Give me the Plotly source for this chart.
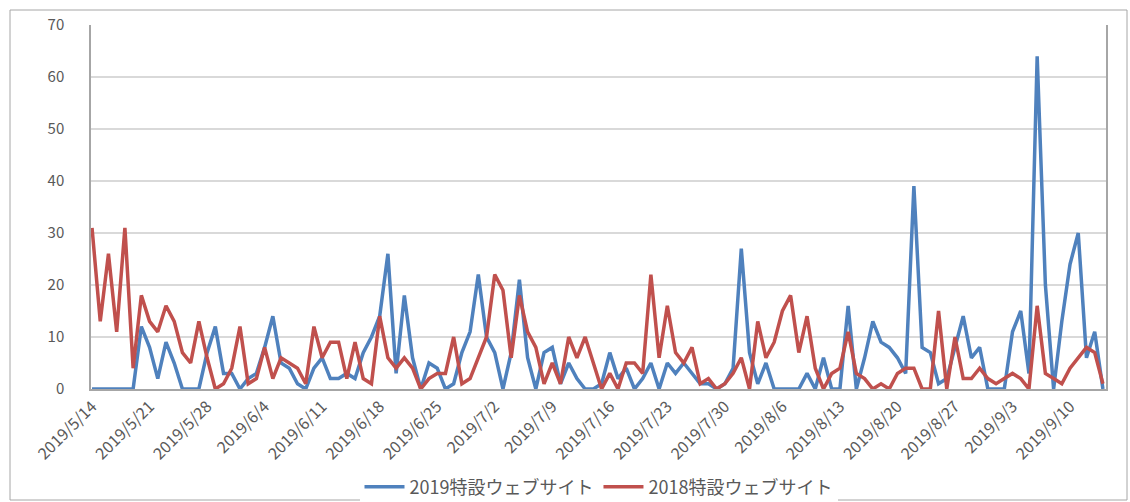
import pandas as pd
import plotly.graph_objects as go

start_date = "2019-05-14"
n_days = 124

series_2019_name = "2019特設ウェブサイト"
series_2018_name = "2018特設ウェブサイト"

values_2019 = [
    0, 0, 0, 0, 0, 0, 12, 8, 2, 9,
    5, 0, 0, 0, 7, 12, 3, 3, 0, 2,
    3, 8, 14, 5, 4, 1, 0, 4, 6, 2,
    2, 3, 2, 7, 10, 14, 26, 3, 18, 6,
    0, 5, 4, 0, 1, 7, 11, 22, 10, 7,
    0, 7, 21, 6, 0, 7, 8, 1, 5, 2,
    0, 0, 1, 7, 2, 4, 0, 2, 5, 0,
    5, 3, 5, 3, 1, 1, 0, 1, 4, 27,
    7, 1, 5, 0, 0, 0, 0, 3, 0, 6,
    0, 0, 16, 0, 6, 13, 9, 8, 6, 3,
    39, 8, 7, 1, 2, 8, 14, 6, 8, 0,
    0, 0, 11, 15, 3, 64, 20, 0, 13, 24,
    30, 6, 11, 0,
]

values_2018 = [
    31, 13, 26, 11, 31, 4, 18, 13, 11, 16,
    13, 7, 5, 13, 6, 0, 1, 4, 12, 1,
    2, 8, 2, 6, 5, 4, 1, 12, 6, 9,
    9, 2, 9, 2, 1, 14, 6, 4, 6, 4,
    0, 2, 3, 3, 10, 1, 2, 6, 10, 22,
    19, 6, 18, 11, 8, 1, 5, 1, 10, 6,
    10, 5, 0, 3, 0, 5, 5, 3, 22, 6,
    16, 7, 5, 8, 1, 2, 0, 1, 3, 6,
    0, 13, 6, 9, 15, 18, 7, 14, 4, 0,
    3, 4, 11, 3, 2, 0, 1, 0, 3, 4,
    4, 0, 0, 15, 0, 10, 2, 2, 4, 2,
    1, 2, 3, 2, 0, 16, 3, 2, 1, 4,
    6, 8, 7, 1,
]

dates = pd.date_range(start_date, periods=n_days, freq="D")
tick_dates = pd.date_range(start_date, "2019-09-10", freq="7D")
tick_text = [f"{d.year}/{d.month}/{d.day}" for d in tick_dates]

BLUE = "#4F81BD"
RED = "#C0504D"
TXT = "#595959"
FONT = "Noto Sans CJK JP"

fig = go.Figure()
fig.add_trace(go.Scatter(x=dates, y=values_2019, mode="lines", name=series_2019_name,
                         line=dict(color=BLUE, width=3.5)))
fig.add_trace(go.Scatter(x=dates, y=values_2018, mode="lines", name=series_2018_name,
                         line=dict(color=RED, width=3.5)))

W, H = 1130, 502
L, R, T, B = 91, 24, 25, 113
pw, ph = W - L - R, H - T - B

def px_to_paper_x(px):
    return (px - L) / pw

def px_to_paper_y(py):
    return (H - B - py) / ph

fig.add_shape(type="rect", xref="paper", yref="paper",
              x0=px_to_paper_x(10), x1=px_to_paper_x(1127),
              y0=px_to_paper_y(500), y1=px_to_paper_y(10),
              line=dict(color="#A6A6A6", width=1), fillcolor="rgba(0,0,0,0)", layer="below")

fig.update_layout(
    width=W, height=H,
    margin=dict(l=L, r=R, t=T, b=B, autoexpand=False),
    paper_bgcolor="white", plot_bgcolor="white",
    font=dict(family=FONT, color=TXT, size=14),
    showlegend=True,
    legend=dict(orientation="h", x=0.5, xanchor="center", y=px_to_paper_y(487), yanchor="middle",
                font=dict(size=18, color=TXT, family=FONT), itemwidth=40, tracegroupgap=0),
    xaxis=dict(
        type="date",
        range=[pd.Timestamp(start_date) - pd.Timedelta(hours=3),
               pd.Timestamp(dates[-1]) + pd.Timedelta(hours=9)],
        tickvals=tick_dates, ticktext=tick_text, tickangle=-45,
        showgrid=False, showline=True, linecolor="#A6A6A6", linewidth=1.5,
        ticks="", tickfont=dict(size=16, color=TXT, family=FONT),
        zeroline=False, automargin=False,
    ),
    yaxis=dict(
        range=[0, 70], dtick=10, tick0=0,
        showgrid=True, gridcolor="#D9D9D9", gridwidth=1.5,
        showline=True, linecolor="#A6A6A6", linewidth=1.5, mirror=True,
        ticks="", ticklabelstandoff=22, tickfont=dict(size=15, color=TXT, family=FONT),
        zeroline=False, automargin=False,
    ),
)

fig.write_html("out.html", config={"displayModeBar": False},
               post_script="document.body.style.margin='0';")
